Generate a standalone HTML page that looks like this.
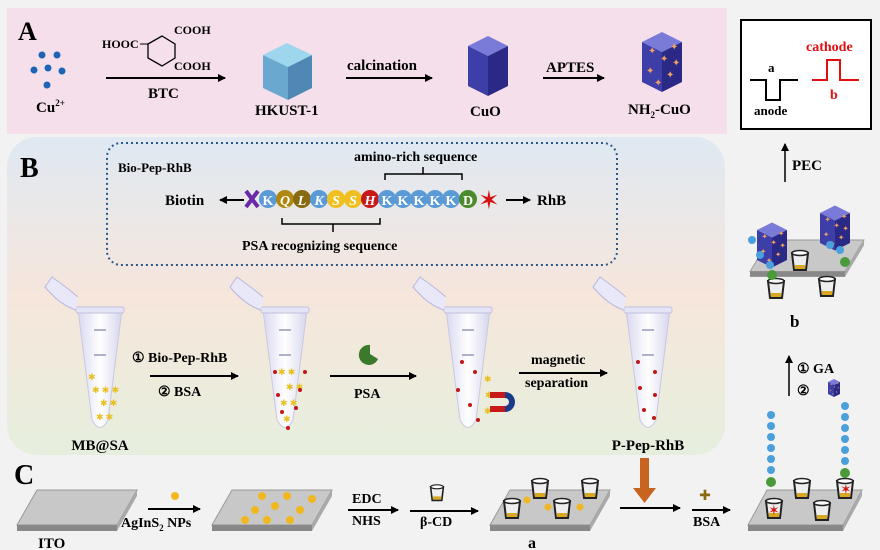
<!DOCTYPE html>
<html><head><meta charset="utf-8"><style>
html,body{margin:0;padding:0;background:#f2f2f2;}
svg{display:block;font-family:"Liberation Serif",serif;font-weight:bold;}
</style></head><body>
<svg width="880" height="550" viewBox="0 0 880 550" xmlns="http://www.w3.org/2000/svg">
<defs>
<linearGradient id="bg" x1="0" y1="0" x2="0" y2="1">
<stop offset="0" stop-color="#dfe9f2"/><stop offset="0.5" stop-color="#f6e6dc"/><stop offset="1" stop-color="#e6efdd"/>
</linearGradient>
<linearGradient id="tube" x1="0" y1="0" x2="1" y2="0">
<stop offset="0" stop-color="#d8d8f0"/><stop offset="0.5" stop-color="#ffffff"/><stop offset="1" stop-color="#d6d6ee"/>
</linearGradient>
<marker id="ah" markerWidth="8" markerHeight="8" refX="7" refY="4" orient="auto" markerUnits="userSpaceOnUse"><path d="M0,0 L8,4 L0,8 z" fill="#000"/></marker>
<g id="tb">
<path d="M-22,-5 L22,-5 L20,10 L8,105 Q0,120 -8,105 L-20,10 z" fill="url(#tube)" stroke="#c8c8e4"/>
<rect x="-24" y="-8" width="48" height="6" rx="2" fill="#e4e4f6" stroke="#c0c0e0"/>
<path d="M-24,-5 Q-40,-10 -55,-28 L-48,-38 Q-30,-25 -22,-18" fill="#e8e8f8" stroke="#b8b8de"/>
<line x1="-6" y1="15" x2="6" y2="15" stroke="#b0b0c8" stroke-width="2"/>
<line x1="-6" y1="40" x2="6" y2="40" stroke="#b0b0c8" stroke-width="2"/>
</g>
<g id="cup"><path d="M-8,-9 L8,-9 L6,8 L-6,8 z" fill="#eee" stroke="#222" stroke-width="2"/><ellipse cx="0" cy="-9" rx="8" ry="2.5" fill="#fff" stroke="#222" stroke-width="1.5"/><rect x="-5" y="3" width="10" height="4" fill="#d8a820"/></g>
<g id="slab"><path d="M20,0 L120,0 L100,35 L0,35 z" fill="#c8c8c8" stroke="#999"/><path d="M0,35 L100,35 L100,41 L0,41 z" fill="#888"/><path d="M100,35 L120,0 L120,6 L100,41 z" fill="#aaa"/></g>
<g id="cube"><path d="M-20,-20 L0,-30 L20,-20 L0,-10 z" fill="#7a7ad8"/><path d="M-20,-20 L0,-10 L0,30 L-20,20 z" fill="#3e3ea8"/><path d="M0,-10 L20,-20 L20,20 L0,30 z" fill="#2a2a86"/></g>
<g id="ncube"><use href="#cube"/><g fill="#f0a060" font-size="10" font-weight="normal"><text x="-14" y="-8">✦</text><text x="-2" y="0">✦</text><text x="8" y="-12">✦</text><text x="-16" y="12">✦</text><text x="4" y="16">✦</text><text x="-8" y="24">✦</text><text x="10" y="4">✦</text></g></g>
</defs>

<!-- Panel A -->
<rect x="7" y="8" width="720" height="126" fill="#f4dfea"/>
<text x="18" y="40" font-size="26">A</text>
<g fill="#1e64b4">
<circle cx="42" cy="55" r="3.5"/><circle cx="57" cy="55" r="3.5"/><circle cx="34" cy="70" r="3.5"/><circle cx="48" cy="68" r="3.5"/><circle cx="62" cy="71" r="3.5"/><circle cx="47" cy="85" r="3.5"/>
</g>
<text x="36" y="112" font-size="15">Cu<tspan font-size="9" dy="-6">2+</tspan></text>
<text x="102" y="48" font-size="12">HOOC</text>
<path d="M148,44 L162,36 L175,44 L175,58 L162,66 L148,58 z" fill="none" stroke="#000" stroke-width="1.3"/>
<line x1="140" y1="44" x2="148" y2="44" stroke="#000"/>
<text x="174" y="34" font-size="12">COOH</text><text x="174" y="70" font-size="12">COOH</text>
<line x1="106" y1="78" x2="225" y2="78" stroke="#000" stroke-width="2" marker-end="url(#ah)"/>
<text x="148" y="98" font-size="15">BTC</text>
<path d="M263,55 L287,43 L312,55 L288,67 z" fill="#9ed6ee"/><path d="M263,55 L288,67 L288,100 L263,88 z" fill="#6aa8d0"/><path d="M288,67 L312,55 L312,88 L288,100 z" fill="#4f88b4"/>
<text x="255" y="115" font-size="15">HKUST-1</text>
<line x1="346" y1="78" x2="432" y2="78" stroke="#000" stroke-width="2" marker-end="url(#ah)"/>
<text x="347" y="70" font-size="15">calcination</text>
<g transform="translate(488,66)"><use href="#cube"/></g>
<text x="470" y="116" font-size="15">CuO</text>
<line x1="543" y1="78" x2="604" y2="78" stroke="#000" stroke-width="2" marker-end="url(#ah)"/>
<text x="546" y="72" font-size="15">APTES</text>
<g transform="translate(662,62)"><use href="#ncube"/></g>
<text x="628" y="114" font-size="15">NH<tspan font-size="9" dy="4">2</tspan><tspan dy="-4">-CuO</tspan></text>

<!-- Right box -->
<rect x="741" y="20" width="130" height="109" fill="#fff" stroke="#000" stroke-width="2"/>
<path d="M750,80 L766,80 L766,100 L780,100 L780,80 L798,80" fill="none" stroke="#000" stroke-width="2"/>
<text x="768" y="72" font-size="13">a</text><text x="754" y="115" font-size="13">anode</text>
<path d="M812,80 L827,80 L827,60 L840,60 L840,80 L859,80" fill="none" stroke="#e01010" stroke-width="2"/>
<text x="806" y="51" font-size="14" fill="#e01010">cathode</text><text x="830" y="99" font-size="14" fill="#e01010">b</text>
<line x1="785" y1="182" x2="785" y2="144" stroke="#000" stroke-width="1.5" marker-end="url(#ah)"/>
<text x="792" y="170" font-size="15">PEC</text>

<!-- Panel B -->
<rect x="7" y="137" width="718" height="318" rx="30" fill="url(#bg)"/>
<text x="20" y="177" font-size="28">B</text>
<rect x="107" y="143" width="510" height="122" rx="14" fill="none" stroke="#2a5a8a" stroke-width="2" stroke-dasharray="2,3"/>
<text x="118" y="172" font-size="13">Bio-Pep-RhB</text>
<text x="354" y="161" font-size="14">amino-rich sequence</text>
<path d="M385,180 L385,174 L462,174 L462,180 M423,174 L423,167" fill="none" stroke="#000" stroke-width="1.5"/>
<text x="165" y="205" font-size="15">Biotin</text>
<line x1="244" y1="200" x2="220" y2="200" stroke="#000" stroke-width="2" marker-end="url(#ah)"/>
<path d="M246,191 L258,207 M258,191 L246,207" stroke="#6a2aa8" stroke-width="4"/>
<g font-size="14" fill="#fff" font-style="italic" text-anchor="middle">
<circle cx="268" cy="199" r="9" fill="#5a9ad6"/><text x="268" y="205" font-style="normal">K</text>
<circle cx="285" cy="199" r="9" fill="#b08810"/><text x="285" y="205">Q</text>
<circle cx="302" cy="199" r="9" fill="#8a6a10"/><text x="302" y="205">L</text>
<circle cx="319" cy="199" r="9" fill="#5a9ad6"/><text x="319" y="205">K</text>
<circle cx="336" cy="199" r="9" fill="#f0c020"/><text x="336" y="205">S</text>
<circle cx="353" cy="199" r="9" fill="#f0c020"/><text x="353" y="205">S</text>
<circle cx="370" cy="199" r="9" fill="#c81818"/><text x="370" y="205">H</text>
<g font-style="normal"><circle cx="387" cy="199" r="9" fill="#5a9ad6"/><text x="387" y="205">K</text>
<circle cx="403" cy="199" r="9" fill="#5a9ad6"/><text x="403" y="205">K</text>
<circle cx="419" cy="199" r="9" fill="#5a9ad6"/><text x="419" y="205">K</text>
<circle cx="435" cy="199" r="9" fill="#5a9ad6"/><text x="435" y="205">K</text>
<circle cx="451" cy="199" r="9" fill="#5a9ad6"/><text x="451" y="205">K</text>
<circle cx="468" cy="199" r="9" fill="#4a8a2a"/><text x="468" y="205">D</text></g>
</g>
<text x="478" y="209" font-size="26" fill="#d41414" font-weight="normal">✶</text>
<line x1="506" y1="200" x2="530" y2="200" stroke="#000" stroke-width="2" marker-end="url(#ah)"/>
<text x="537" y="205" font-size="15">RhB</text>
<path d="M282,218 L282,224 L380,224 L380,218 M333,224 L333,232" fill="none" stroke="#000" stroke-width="1.5"/>
<text x="242" y="250" font-size="14">PSA recognizing sequence</text>

<g transform="translate(100,315)"><use href="#tb"/></g>
<g transform="translate(285,315)"><use href="#tb"/></g>
<g transform="translate(468,315)"><use href="#tb"/></g>
<g transform="translate(648,315)"><use href="#tb"/></g>
<g fill="#e8c020" font-size="9" font-weight="normal">
<text x="88" y="380">✱</text><text x="92" y="393">✱ ✱ ✱</text><text x="100" y="406">✱ ✱</text><text x="96" y="420">✱ ✱</text>
<text x="278" y="375">✱ ✱</text><text x="286" y="390">✱ ✱</text><text x="280" y="406">✱ ✱</text><text x="283" y="422">✱</text>
<text x="484" y="382">✱</text><text x="485" y="398">✱</text><text x="484" y="414">✱</text>
</g>
<g fill="#c01818"><circle cx="275" cy="372" r="2"/><circle cx="305" cy="372" r="2"/><circle cx="278" cy="395" r="2"/><circle cx="300" cy="390" r="2"/><circle cx="282" cy="412" r="2"/><circle cx="296" cy="408" r="2"/><circle cx="288" cy="428" r="2"/>
<circle cx="462" cy="362" r="2"/><circle cx="475" cy="372" r="2"/><circle cx="458" cy="390" r="2"/><circle cx="470" cy="405" r="2"/><circle cx="478" cy="420" r="2"/>
<circle cx="638" cy="362" r="2"/><circle cx="655" cy="372" r="2"/><circle cx="640" cy="388" r="2"/><circle cx="655" cy="395" r="2"/><circle cx="644" cy="410" r="2"/><circle cx="654" cy="418" r="2"/></g>
<path d="M505,392 a10,10 0 1 1 0,20 l0,-6 a4,4 0 1 0 0,-8 z" fill="#1a3a8a"/>
<path d="M490,392 l15,0 l0,6 l-15,0 z M490,406 l15,0 l0,6 l-15,0 z" fill="#c81818"/>
<text x="100" y="450" font-size="15" text-anchor="middle">MB@SA</text>
<text x="648" y="450" font-size="15" text-anchor="middle">P-Pep-RhB</text>
<text x="132" y="362" font-size="14">① Bio-Pep-RhB</text>
<line x1="150" y1="376" x2="238" y2="376" stroke="#000" stroke-width="2" marker-end="url(#ah)"/>
<text x="158" y="396" font-size="14">② BSA</text>
<path d="M370,345 a10,10 0 1 0 8,14 l-8,-5 z" fill="#3a7a2a"/>
<line x1="330" y1="376" x2="416" y2="376" stroke="#000" stroke-width="2" marker-end="url(#ah)"/>
<text x="354" y="398" font-size="14">PSA</text>
<text x="531" y="364" font-size="14">magnetic</text>
<line x1="519" y1="373" x2="607" y2="373" stroke="#000" stroke-width="2" marker-end="url(#ah)"/>
<text x="525" y="387" font-size="14">separation</text>

<!-- right column b -->
<g transform="translate(750,240)"><use href="#slab" transform="scale(0.95,0.9)"/></g>
<g transform="translate(772,245)"><use href="#ncube" transform="scale(0.75)"/></g>
<g transform="translate(835,228)"><use href="#ncube" transform="scale(0.75)"/></g>
<g transform="translate(800,262)"><use href="#cup"/></g>
<g transform="translate(827,288)"><use href="#cup"/></g>
<g transform="translate(776,290)"><use href="#cup"/></g>
<circle cx="772" cy="275" r="5" fill="#4a9a3a"/><circle cx="845" cy="262" r="5" fill="#4a9a3a"/>
<g fill="#4aa0dc"><circle cx="752" cy="240" r="4"/><circle cx="760" cy="255" r="4"/><circle cx="770" cy="265" r="4"/><circle cx="830" cy="245" r="4"/><circle cx="840" cy="250" r="4"/></g>
<text x="790" y="327" font-size="17">b</text>
<line x1="789" y1="396" x2="789" y2="356" stroke="#000" stroke-width="1.5" marker-end="url(#ah)"/>
<text x="797" y="373" font-size="14">① GA</text>
<text x="797" y="395" font-size="14">②</text>
<g transform="translate(834,388)"><use href="#ncube" transform="scale(0.3)"/></g>

<!-- Panel C -->
<text x="14" y="484" font-size="28">C</text>
<g transform="translate(17,490)"><use href="#slab"/></g>
<text x="38" y="548" font-size="15">ITO</text>
<circle cx="175" cy="496" r="4" fill="#f0b820"/>
<line x1="148" y1="509" x2="200" y2="509" stroke="#000" stroke-width="2" marker-end="url(#ah)"/>
<text x="121" y="527" font-size="14">AgInS<tspan font-size="9" dy="4">2</tspan><tspan dy="-4"> NPs</tspan></text>
<g transform="translate(212,490)"><use href="#slab"/></g>
<g fill="#f0b820"><circle cx="262" cy="496" r="4"/><circle cx="287" cy="496" r="4"/><circle cx="312" cy="499" r="4"/><circle cx="255" cy="510" r="4"/><circle cx="275" cy="506" r="4"/><circle cx="300" cy="510" r="4"/><circle cx="245" cy="520" r="4"/><circle cx="267" cy="520" r="4"/><circle cx="290" cy="520" r="4"/></g>
<text x="352" y="503" font-size="14">EDC</text>
<line x1="348" y1="510" x2="398" y2="510" stroke="#000" stroke-width="2" marker-end="url(#ah)"/>
<text x="352" y="525" font-size="14">NHS</text>
<g transform="translate(437,494)"><use href="#cup" transform="scale(0.8)"/></g>
<line x1="410" y1="511" x2="478" y2="511" stroke="#000" stroke-width="2" marker-end="url(#ah)"/>
<text x="420" y="526" font-size="14">β-CD</text>
<g transform="translate(490,490)"><use href="#slab"/></g>
<g transform="translate(540,490)"><use href="#cup"/></g><g transform="translate(590,490)"><use href="#cup"/></g><g transform="translate(512,510)"><use href="#cup"/></g><g transform="translate(562,510)"><use href="#cup"/></g>
<g fill="#f0b820"><circle cx="548" cy="507" r="3.5"/><circle cx="527" cy="500" r="3.5"/><circle cx="580" cy="507" r="3.5"/></g>
<text x="528" y="548" font-size="16">a</text>
<rect x="640" y="458" width="9" height="30" fill="#c86420"/><path d="M633,488 L656,488 L644.5,503 z" fill="#c86420"/>
<line x1="620" y1="508" x2="680" y2="508" stroke="#000" stroke-width="2" marker-end="url(#ah)"/>
<text x="705" y="500" font-size="14" fill="#8a6a10" text-anchor="middle" font-weight="normal">✚</text>
<line x1="692" y1="510" x2="730" y2="510" stroke="#000" stroke-width="2" marker-end="url(#ah)"/>
<text x="693" y="526" font-size="14">BSA</text>
<g transform="translate(748,490)"><use href="#slab" transform="scale(0.95,1)"/></g>
<g fill="#4aa0dc"><circle cx="771" cy="470" r="4"/><circle cx="771" cy="459" r="4"/><circle cx="771" cy="448" r="4"/><circle cx="771" cy="437" r="4"/><circle cx="771" cy="426" r="4"/><circle cx="771" cy="415" r="4"/><circle cx="845" cy="450" r="4"/><circle cx="845" cy="439" r="4"/><circle cx="845" cy="428" r="4"/><circle cx="845" cy="417" r="4"/><circle cx="845" cy="406" r="4"/><circle cx="845" cy="461" r="4"/></g>
<circle cx="771" cy="482" r="5" fill="#4a9a3a"/><circle cx="845" cy="473" r="5" fill="#4a9a3a"/>
<g transform="translate(774,510)"><use href="#cup"/></g><g transform="translate(845,490)"><use href="#cup"/></g><g transform="translate(802,490)"><use href="#cup"/></g><g transform="translate(822,512)"><use href="#cup"/></g>
<text x="768" y="515" font-size="14" fill="#d41414" font-weight="normal">✶</text>
<text x="840" y="494" font-size="14" fill="#d41414" font-weight="normal">✶</text>
</svg>
</body></html>
